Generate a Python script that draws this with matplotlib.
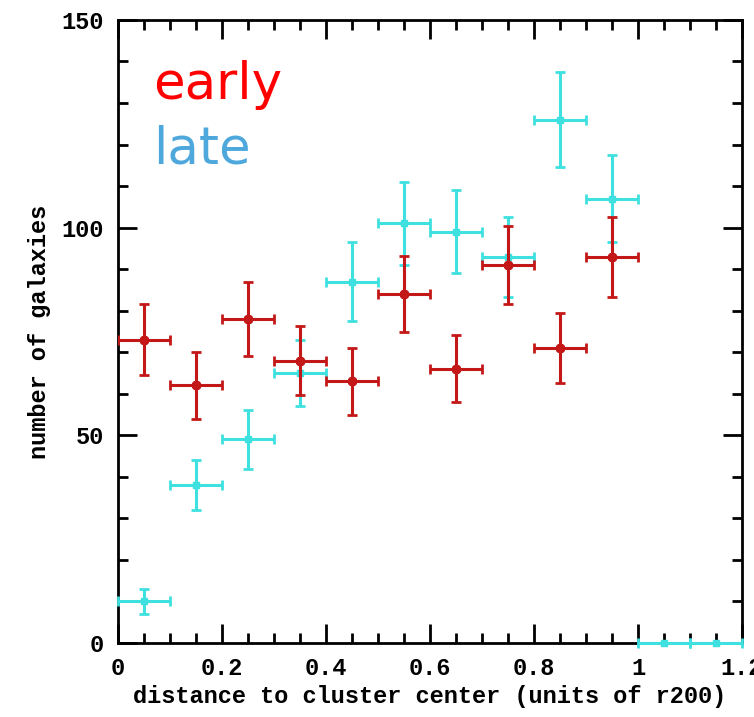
import matplotlib
matplotlib.use("Agg")
import matplotlib.pyplot as plt
from matplotlib.ticker import MultipleLocator

# data
bins_x = [0.05, 0.15, 0.25, 0.35, 0.45, 0.55, 0.65, 0.75, 0.85, 0.95]
early_n = [73, 62, 78, 68, 63, 84, 66, 91, 71, 93]
early_err = [8.5, 8, 8.8, 8.2, 8, 9.1, 8.1, 9.5, 8.4, 9.6]
late_x = [0.05, 0.15, 0.25, 0.35, 0.45, 0.55, 0.65, 0.75, 0.85, 0.95, 1.05, 1.15]
late_n = [10, 38, 49, 65, 87, 101, 99, 93, 126, 107, 0, 0]
late_err = [3, 6, 7, 8, 9.5, 10, 10, 9.6, 11.5, 10.4, 0, 0]
bin_halfwidth = 0.05

fig = plt.figure(figsize=(7.54, 7.17), dpi=100)
ax = fig.add_axes([0.1565, 0.1032, 0.8275, 0.869])

late_col = '#3fe0e0'
early_col = '#c41818'

ax.errorbar(late_x, late_n, xerr=bin_halfwidth, yerr=late_err, fmt='s', color=late_col,
            ms=5, elinewidth=2.2, capsize=3.5, capthick=2, zorder=3, clip_on=False)
ax.errorbar(bins_x, early_n, xerr=bin_halfwidth, yerr=early_err, fmt='X', color=early_col,
            ms=6, elinewidth=2.2, capsize=3.5, capthick=2, zorder=4)

ax.set_xlim(0, 1.2)
ax.set_ylim(0, 150)
ax.xaxis.set_major_locator(MultipleLocator(0.2))
ax.xaxis.set_minor_locator(MultipleLocator(0.05))
ax.yaxis.set_major_locator(MultipleLocator(50))
ax.yaxis.set_minor_locator(MultipleLocator(10))
ax.tick_params(which='both', direction='in', top=True, right=True, width=2, colors='black')
ax.tick_params(which='major', length=14, labelsize=15, pad=10)
ax.tick_params(which='minor', length=7)
for s in ax.spines.values():
    s.set_linewidth(2)

ax.set_xticks([0, 0.2, 0.4, 0.6, 0.8, 1.0, 1.2])
ax.set_xticklabels(['0', '0.2', '0.4', '0.6', '0.8', '1', '1.2'])
for lab in ax.get_xticklabels() + ax.get_yticklabels():
    lab.set_family('Liberation Mono')
    lab.set_fontweight('bold')
    lab.set_fontsize(17)

ax.set_xlabel('distance to cluster center (units of r200)', family='Liberation Mono',
              fontweight='bold', fontsize=17, labelpad=4)
ax.set_ylabel('number of galaxies', family='Liberation Mono', fontweight='bold',
              fontsize=17, labelpad=8)

ax.text(0.057, 0.873, 'early', transform=ax.transAxes, color='#ff0000', fontsize=37,
        family='DejaVu Sans', va='baseline')
ax.text(0.057, 0.770, 'late', transform=ax.transAxes, color='#4ea8dc', fontsize=37,
        family='DejaVu Sans', va='baseline')

fig.savefig('out.png', dpi=100)
